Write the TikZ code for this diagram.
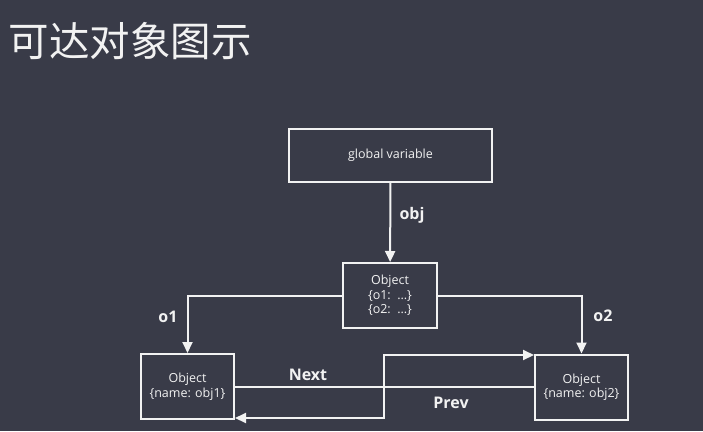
\documentclass[tikz,border=0pt]{standalone}
\usepackage{fontspec}
\setmainfont{Open Sans}
\newfontfamily\cjk{Noto Sans CJK SC}
\usetikzlibrary{arrows.meta,positioning}
\definecolor{slidebg}{HTML}{393B48}
\definecolor{ink}{HTML}{F2F2F2}
\tikzset{
  objbox/.style={draw=ink,line width=2pt,text=ink,inner sep=0pt,align=center,
    font=\fontsize{12.5}{14.5}\selectfont},
  link/.style={draw=ink,line width=2pt,-{Triangle[length=11pt,width=10pt]}},
  lbl/.style={text=ink,font=\fontsize{16}{19}\selectfont\bfseries},
}
\begin{document}
\begin{tikzpicture}[x=1pt,y=-1pt]
    \fill[slidebg] (0,0) rectangle (703,431);
    \useasboundingbox (0,0) rectangle (703,431);
    \node[anchor=west,text=ink,font=\cjk\fontsize{40.5}{44}\selectfont] (title) at (5,41) {可达对象图示};
    % boxes
    \node[objbox,minimum width=203pt,minimum height=53pt] (glob) at (390.5,155.5) {global variable};
    \node[objbox,minimum width=94pt,minimum height=65pt] (root) at (390,295.5) {Object\\\{o1:\ \ ...\}\\\{o2:\ \ ...\}};
    \node[objbox,minimum width=93pt,minimum height=65pt] (obj1) at (187.5,386.5) {Object\\\{name: obj1\}};
    \node[objbox,minimum width=93pt,minimum height=65pt] (obj2) at (581.5,387) {Object\\\{name: obj2\}};
    % references
    \draw[link] (glob) -- (root);
    \node[lbl] (lobj) at (412,215) {obj};
    \draw[link] (root.west) -| (obj1);
    \node[lbl] (lo1) at (168,317) {o1};
    \draw[link] (root.east) -| (obj2);
    \node[lbl] (lo2) at (603,316) {o2};
    % next / prev
    \coordinate (cross) at (384,387);
    \draw[link] (obj1.east |- cross) -- (cross) |- ([yshift=-1.5pt]obj2.north west);
    \node[lbl] (lnext) at (308,375) {Next};
    \draw[link] (obj2.west |- cross) -- (cross) |- ([yshift=2pt]obj1.south east);
    \node[lbl] (lprev) at (451,403) {Prev};
\end{tikzpicture}
\end{document}
